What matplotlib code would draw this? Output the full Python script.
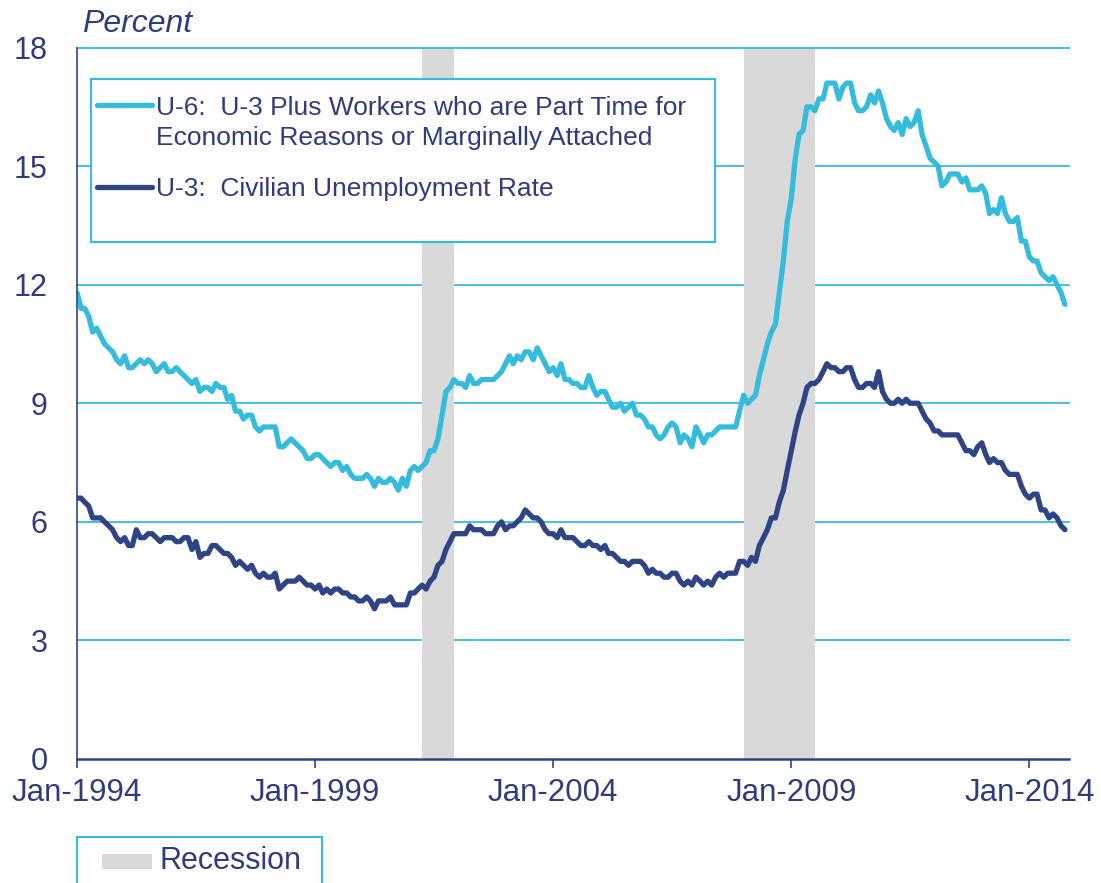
import matplotlib
matplotlib.use('Agg')
import matplotlib.pyplot as plt
import pandas as pd
from matplotlib.patches import Rectangle
from matplotlib.lines import Line2D

plt.rcParams['font.family'] = ['Liberation Sans', 'DejaVu Sans']

# ---------------- data ----------------
u3_by_year = {
    1994: [6.6, 6.6, 6.5, 6.4, 6.1, 6.1, 6.1, 6.0, 5.9, 5.8, 5.6, 5.5],
    1995: [5.6, 5.4, 5.4, 5.8, 5.6, 5.6, 5.7, 5.7, 5.6, 5.5, 5.6, 5.6],
    1996: [5.6, 5.5, 5.5, 5.6, 5.6, 5.3, 5.5, 5.1, 5.2, 5.2, 5.4, 5.4],
    1997: [5.3, 5.2, 5.2, 5.1, 4.9, 5.0, 4.9, 4.8, 4.9, 4.7, 4.6, 4.7],
    1998: [4.6, 4.6, 4.7, 4.3, 4.4, 4.5, 4.5, 4.5, 4.6, 4.5, 4.4, 4.4],
    1999: [4.3, 4.4, 4.2, 4.3, 4.2, 4.3, 4.3, 4.2, 4.2, 4.1, 4.1, 4.0],
    2000: [4.0, 4.1, 4.0, 3.8, 4.0, 4.0, 4.0, 4.1, 3.9, 3.9, 3.9, 3.9],
    2001: [4.2, 4.2, 4.3, 4.4, 4.3, 4.5, 4.6, 4.9, 5.0, 5.3, 5.5, 5.7],
    2002: [5.7, 5.7, 5.7, 5.9, 5.8, 5.8, 5.8, 5.7, 5.7, 5.7, 5.9, 6.0],
    2003: [5.8, 5.9, 5.9, 6.0, 6.1, 6.3, 6.2, 6.1, 6.1, 6.0, 5.8, 5.7],
    2004: [5.7, 5.6, 5.8, 5.6, 5.6, 5.6, 5.5, 5.4, 5.4, 5.5, 5.4, 5.4],
    2005: [5.3, 5.4, 5.2, 5.2, 5.1, 5.0, 5.0, 4.9, 5.0, 5.0, 5.0, 4.9],
    2006: [4.7, 4.8, 4.7, 4.7, 4.6, 4.6, 4.7, 4.7, 4.5, 4.4, 4.5, 4.4],
    2007: [4.6, 4.5, 4.4, 4.5, 4.4, 4.6, 4.7, 4.6, 4.7, 4.7, 4.7, 5.0],
    2008: [5.0, 4.9, 5.1, 5.0, 5.4, 5.6, 5.8, 6.1, 6.1, 6.5, 6.8, 7.3],
    2009: [7.8, 8.3, 8.7, 9.0, 9.4, 9.5, 9.5, 9.6, 9.8, 10.0, 9.9, 9.9],
    2010: [9.8, 9.8, 9.9, 9.9, 9.6, 9.4, 9.4, 9.5, 9.5, 9.4, 9.8, 9.3],
    2011: [9.1, 9.0, 9.0, 9.1, 9.0, 9.1, 9.0, 9.0, 9.0, 8.8, 8.6, 8.5],
    2012: [8.3, 8.3, 8.2, 8.2, 8.2, 8.2, 8.2, 8.0, 7.8, 7.8, 7.7, 7.9],
    2013: [8.0, 7.7, 7.5, 7.6, 7.5, 7.5, 7.3, 7.2, 7.2, 7.2, 6.9, 6.7],
    2014: [6.6, 6.7, 6.7, 6.3, 6.3, 6.1, 6.2, 6.1, 5.9, 5.8],
}
u6_by_year = {
    1994: [11.8, 11.4, 11.4, 11.2, 10.8, 10.9, 10.7, 10.5, 10.4, 10.3, 10.1, 10.0],
    1995: [10.2, 9.9, 9.9, 10.0, 10.1, 10.0, 10.1, 10.0, 9.8, 9.9, 10.0, 9.8],
    1996: [9.8, 9.9, 9.8, 9.7, 9.6, 9.5, 9.6, 9.3, 9.4, 9.4, 9.3, 9.5],
    1997: [9.4, 9.4, 9.1, 9.2, 8.8, 8.8, 8.6, 8.7, 8.7, 8.4, 8.3, 8.4],
    1998: [8.4, 8.4, 8.4, 7.9, 7.9, 8.0, 8.1, 8.0, 7.9, 7.8, 7.6, 7.6],
    1999: [7.7, 7.7, 7.6, 7.5, 7.4, 7.5, 7.5, 7.3, 7.4, 7.2, 7.1, 7.1],
    2000: [7.1, 7.2, 7.1, 6.9, 7.1, 7.0, 7.0, 7.1, 7.0, 6.8, 7.1, 6.9],
    2001: [7.3, 7.4, 7.3, 7.4, 7.5, 7.8, 7.8, 8.1, 8.7, 9.3, 9.4, 9.6],
    2002: [9.5, 9.5, 9.4, 9.7, 9.5, 9.5, 9.6, 9.6, 9.6, 9.6, 9.7, 9.8],
    2003: [10.0, 10.2, 10.0, 10.2, 10.1, 10.3, 10.3, 10.1, 10.4, 10.2, 10.0, 9.8],
    2004: [9.9, 9.7, 10.0, 9.6, 9.6, 9.5, 9.5, 9.4, 9.4, 9.7, 9.4, 9.2],
    2005: [9.3, 9.3, 9.1, 8.9, 8.9, 9.0, 8.8, 8.9, 9.0, 8.7, 8.7, 8.6],
    2006: [8.4, 8.4, 8.2, 8.1, 8.2, 8.4, 8.5, 8.4, 8.0, 8.2, 8.1, 7.9],
    2007: [8.4, 8.2, 8.0, 8.2, 8.2, 8.3, 8.4, 8.4, 8.4, 8.4, 8.4, 8.8],
    2008: [9.2, 9.0, 9.1, 9.2, 9.7, 10.1, 10.5, 10.8, 11.0, 11.8, 12.6, 13.6],
    2009: [14.2, 15.2, 15.8, 15.9, 16.5, 16.5, 16.4, 16.7, 16.7, 17.1, 17.1, 17.1],
    2010: [16.7, 17.0, 17.1, 17.1, 16.6, 16.4, 16.4, 16.5, 16.8, 16.6, 16.9, 16.6],
    2011: [16.2, 16.0, 15.9, 16.1, 15.8, 16.2, 16.0, 16.1, 16.4, 15.8, 15.5, 15.2],
    2012: [15.1, 15.0, 14.5, 14.6, 14.8, 14.8, 14.8, 14.6, 14.7, 14.4, 14.4, 14.4],
    2013: [14.5, 14.3, 13.8, 13.9, 13.8, 14.2, 13.8, 13.6, 13.6, 13.7, 13.1, 13.1],
    2014: [12.7, 12.6, 12.6, 12.3, 12.2, 12.1, 12.2, 12.0, 11.8, 11.5],
}
u3 = [v for y in sorted(u3_by_year) for v in u3_by_year[y]]
u6 = [v for y in sorted(u6_by_year) for v in u6_by_year[y]]
dates = pd.date_range('1994-01-01', periods=len(u3), freq='MS')

recession_starts = ['2001-04-01', '2008-01-01']
recession_ends = ['2001-12-01', '2009-07-01']

y_ticks = [0, 3, 6, 9, 12, 15, 18]
x_tick_dates = ['1994-01-01', '1999-01-01', '2004-01-01', '2009-01-01', '2014-01-01']
x_tick_labels = ['Jan-1994', 'Jan-1999', 'Jan-2004', 'Jan-2009', 'Jan-2014']

u6_label_1 = 'U-6:  U-3 Plus Workers who are Part Time for'
u6_label_2 = 'Economic Reasons or Marginally Attached'
u3_label = 'U-3:  Civilian Unemployment Rate'
recession_label = 'Recession'
y_unit_label = 'Percent'

# ---------------- style ----------------
CYAN = '#35BCDC'
NAVY = '#2F4484'
TEXT = '#2E3C7C'
GREY = '#D9D9D9'

W, H = 1101, 883
fig = plt.figure(figsize=(W / 100, H / 100), dpi=100)
ax = fig.add_axes([77 / W, 1 - 759 / H, 992 / W, (759 - 47.5) / H])

ax.set_xlim(pd.Timestamp('1994-01-01'), pd.Timestamp('2014-11-01'))
ax.set_ylim(0, 18)

for yv in y_ticks[1:]:
    # top line sits above the recession shading, the others below it
    z = 2 if yv == y_ticks[-1] else 1
    ax.axhline(yv, color=CYAN, lw=1.3, zorder=z, clip_on=False)

for s, e in zip(recession_starts, recession_ends):
    ax.axvspan(pd.Timestamp(s), pd.Timestamp(e), color=GREY, lw=0, zorder=1.5)

ax.plot(dates, u6, color=CYAN, lw=3.8, zorder=3,
        solid_joinstyle='round', solid_capstyle='round')
ax.plot(dates, u3, color=NAVY, lw=3.8, zorder=3,
        solid_joinstyle='round', solid_capstyle='round')

ax.set_yticks(y_ticks)
ax.set_yticklabels([str(v) for v in y_ticks])
ax.set_xticks([pd.Timestamp(d) for d in x_tick_dates])
ax.set_xticklabels(x_tick_labels)
ax.tick_params(axis='y', length=0, pad=21, labelsize=22, labelcolor=TEXT)
ax.tick_params(axis='x', length=6.5, width=1.2, color=NAVY, direction='out',
               pad=7, labelsize=22.5, labelcolor=TEXT)

for sp in ['top', 'right']:
    ax.spines[sp].set_visible(False)
ax.spines['left'].set_color(NAVY)
ax.spines['left'].set_linewidth(1.2)
ax.spines['bottom'].set_color(NAVY)
ax.spines['bottom'].set_linewidth(1.8)
ax.spines['left'].set_zorder(4)
ax.spines['bottom'].set_zorder(4)

# unit label
fig.text(82 / W, 1 - 32 / H, y_unit_label, fontsize=23, style='italic',
         color=TEXT, va='baseline', ha='left')

# series legend box
ax.add_patch(Rectangle((91 / W, 1 - 242 / H), 624 / W, 163 / H,
                       transform=fig.transFigure, facecolor='white',
                       edgecolor=CYAN, lw=1.5, zorder=2.5, clip_on=False))
ax.add_line(Line2D([97 / W, 152 / W], [1 - 105 / H] * 2, transform=fig.transFigure,
                   color=CYAN, lw=3.8, solid_capstyle='round', zorder=2.6, clip_on=False))
ax.add_line(Line2D([97 / W, 152 / W], [1 - 187 / H] * 2, transform=fig.transFigure,
                   color=NAVY, lw=3.8, solid_capstyle='round', zorder=2.6, clip_on=False))
fig.text(156 / W, 1 - 115 / H, u6_label_1, fontsize=19, color=TEXT, va='baseline')
fig.text(156 / W, 1 - 145 / H, u6_label_2, fontsize=19, color=TEXT, va='baseline')
fig.text(156 / W, 1 - 196 / H, u3_label, fontsize=19, color=TEXT, va='baseline')

# recession legend box
fig.patches.append(Rectangle((77 / W, 1 - 900 / H), 245 / W, 63 / H,
                             transform=fig.transFigure, facecolor='white',
                             edgecolor=CYAN, lw=1.5, figure=fig))
fig.patches.append(Rectangle((102 / W, 1 - 869 / H), 50 / W, 15 / H,
                             transform=fig.transFigure, facecolor=GREY,
                             edgecolor='none', figure=fig))
fig.text(160 / W, 1 - 869 / H, recession_label, fontsize=22, color=TEXT, va='baseline')

fig.savefig('out.png', dpi=100)
